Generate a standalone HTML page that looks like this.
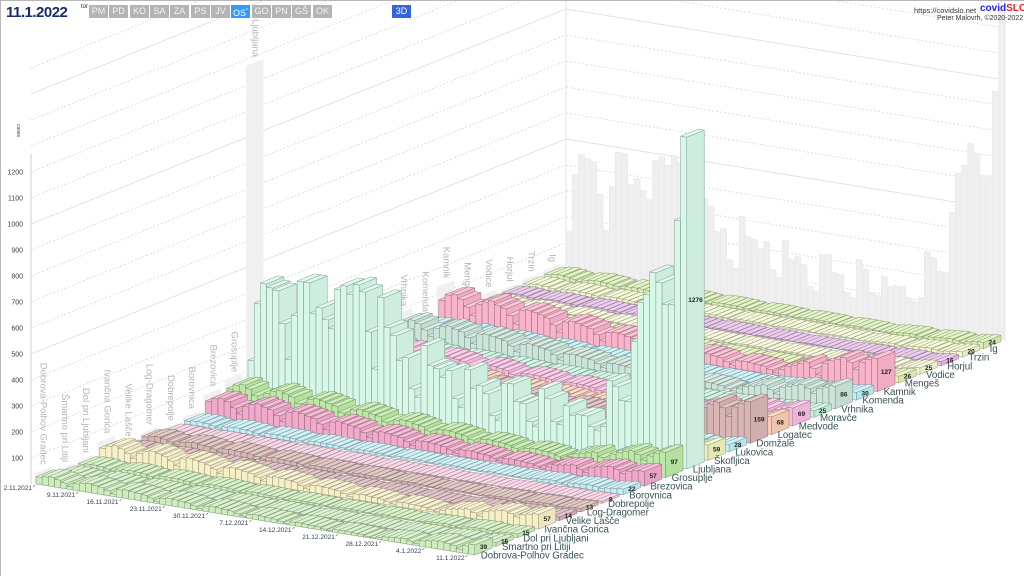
<!DOCTYPE html>
<html><head><meta charset="utf-8">
<style>
html,body{margin:0;padding:0;background:#fff;}
#wrap{position:relative;width:1024px;height:576px;overflow:hidden;background:#fff;font-family:"Liberation Sans",sans-serif;border-top:1px solid #b8b8b8;border-left:1px solid #b8b8b8;box-sizing:border-box;}
#chart{position:absolute;left:0;top:0;}
.btn{position:absolute;top:4px;height:13px;width:19px;background:#b4b4b4;color:#f4f4f4;font-size:9px;line-height:13px;text-align:center;}
</style></head>
<body>
<div id="wrap">
<svg id="chart" width="1024" height="576"></svg>
<div style="position:absolute;left:5px;top:3px;font-size:15px;font-weight:bold;color:#1a2a6c;letter-spacing:-0.5px;">11.1.2022</div>
<div style="position:absolute;left:80px;top:3px;font-size:6px;color:#1a2a6c;">tor</div>
<div class="btn" style="left:88px">PM</div>
<div class="btn" style="left:108px">PD</div>
<div class="btn" style="left:129px">KO</div>
<div class="btn" style="left:149px">SA</div>
<div class="btn" style="left:169px">ZA</div>
<div class="btn" style="left:190px">PS</div>
<div class="btn" style="left:210px">JV</div>
<div class="btn" style="left:230px;background:#3399ff;color:#fff">OS<sup style="font-size:5px">*</sup></div>
<div class="btn" style="left:251px">GO</div>
<div class="btn" style="left:271px">PN</div>
<div class="btn" style="left:291px">GŠ</div>
<div class="btn" style="left:312px">OK</div>
<div class="btn" style="left:391px;background:#3366dd;color:#fff">3D</div>
<div style="position:absolute;left:913px;top:5px;font-size:7.5px;color:#333;">https://covidslo.net</div>
<div style="position:absolute;left:979px;top:2px;font-size:10px;font-weight:bold;"><span style="color:#2222ee">covid</span><span style="color:#ee2222">SLO</span></div>
<div style="position:absolute;left:936px;top:14px;font-size:7px;color:#333;">Peter Malovrh, ©2020-2022</div>
</div>
<script>
// ---- data ----
const municipalities = ["Dobrova-Polhov Gradec","Šmartno pri Litiji","Dol pri Ljubljani","Ivančna Gorica","Velike Lašče","Log-Dragomer","Dobrepolje","Borovnica","Brezovica","Grosuplje","Ljubljana","Škofljica","Lukovica","Domžale","Logatec","Medvode","Moravče","Vrhnika","Komenda","Kamnik","Mengeš","Vodice","Horjul","Trzin","Ig"];
const dateTicks = ["2.11.2021","9.11.2021","16.11.2021","23.11.2021","30.11.2021","7.12.2021","14.12.2021","21.12.2021","28.12.2021","4.1.2022","11.1.2022"];
const yTicks = [100,200,300,400,500,600,700,800,900,1000,1100,1200];
const sDobrova = [28,34,36,30,22,12,26,32,35,31,28,20,10,30,33,30,28,25,18,9,24,28,26,24,22,15,8,20,24,22,20,18,12,6,16,18,17,15,14,9,5,13,15,14,12,11,7,4,11,12,11,10,9,5,3,8,14,16,18,20,14,8,22,26,30,32,28,24,14,30,39];
const sSmartno = [10,14,15,13,9,5,11,15,16,14,12,8,4,13,14,13,12,10,7,3,11,12,11,10,9,6,3,9,10,9,8,7,5,2,7,8,7,6,6,4,2,5,6,6,5,5,3,2,5,5,4,4,4,2,1,3,6,7,8,9,6,4,9,11,12,13,10,6,12,14,15];
const sDol = [12,16,17,15,10,6,13,17,18,16,14,9,5,15,16,15,14,12,8,4,12,14,13,12,10,7,4,10,11,10,9,8,6,3,8,9,8,7,7,5,2,6,7,7,6,6,4,2,5,6,5,5,4,3,1,4,7,8,9,10,7,4,10,12,13,14,11,8,12,14,15];
const sIvancna = [40,52,58,50,36,20,44,55,60,54,48,34,18,50,56,52,48,42,30,16,42,46,44,40,36,26,14,34,38,36,33,30,20,11,28,30,28,26,24,16,9,22,24,22,20,18,12,7,17,19,17,16,14,9,5,13,22,26,30,34,24,14,36,42,48,50,44,34,46,52,57];
const sVelike = [10,13,14,12,8,4,10,13,14,12,11,7,4,11,12,11,10,9,6,3,9,10,9,9,8,5,3,7,8,8,7,6,4,2,6,6,6,5,5,3,2,4,5,5,4,4,3,1,4,4,4,3,3,2,1,3,5,6,7,8,5,3,8,9,10,11,9,7,10,12,14];
const sLog = [18,24,26,22,15,8,20,24,26,22,20,14,7,21,22,20,19,17,12,6,16,18,16,15,14,10,5,12,13,12,11,10,7,4,9,10,9,9,8,5,3,7,8,8,7,6,4,2,6,7,6,6,5,3,2,5,7,8,9,10,7,4,9,10,11,12,10,8,10,12,13];
const sDobrepolje = [6,8,9,7,5,3,6,8,9,8,7,5,2,7,7,7,6,6,4,2,5,6,6,5,5,3,2,4,5,5,4,4,3,1,3,4,4,3,3,2,1,3,3,3,3,3,2,1,2,3,3,2,2,1,1,2,3,4,4,5,3,2,5,5,6,6,5,4,6,7,8];
const sBorovnica = [12,16,17,15,10,6,13,16,17,15,14,9,5,14,15,14,13,12,8,4,11,13,12,11,10,7,4,9,10,10,9,8,5,3,8,8,8,7,6,4,2,6,7,6,6,5,4,2,5,6,5,5,5,3,2,4,8,9,11,12,8,5,12,14,16,17,15,11,16,19,22];
const sBrezovica = [55,70,74,66,46,26,58,70,76,68,62,44,24,64,70,66,60,55,38,20,52,58,54,50,46,32,17,42,46,44,40,36,25,13,34,36,34,31,28,19,10,26,28,26,24,22,15,8,20,22,20,18,17,11,6,15,26,30,34,38,26,16,40,46,52,55,48,36,48,54,57];
const sGrosuplje = [70,88,94,82,60,34,76,88,95,86,78,56,30,80,86,82,76,70,48,26,66,72,68,62,58,40,22,54,58,56,50,46,32,17,44,46,44,40,36,25,13,34,36,34,32,28,20,11,26,30,28,26,24,16,9,21,36,42,48,54,38,22,58,68,76,82,72,54,74,88,97];
const sLjubljana = [146,369,450,438,431,308,173,346,481,481,365,392,350,319,473,492,462,504,480,330,190,470,358,331,238,254,138,108,312,238,231,200,231,127,96,246,177,192,165,85,69,215,219,154,150,85,69,219,185,100,92,169,135,142,142,104,92,112,292,273,223,223,458,612,646,735,700,619,623,950,1276];
const sSkofljica = [30,40,44,38,26,14,32,40,44,38,34,24,12,36,38,36,33,30,20,11,28,32,30,27,25,17,9,22,24,23,21,19,13,7,18,19,18,16,15,10,5,14,15,14,13,12,8,4,11,12,12,11,10,6,4,9,15,18,22,26,18,10,28,34,40,44,38,28,42,50,59];
const sLukovica = [16,21,23,20,14,8,17,21,23,20,18,13,7,19,20,19,17,16,11,6,15,17,16,14,13,9,5,12,13,12,11,10,7,4,9,10,10,9,8,5,3,7,8,8,7,6,4,2,6,7,6,6,5,3,2,5,8,10,12,14,10,6,14,16,18,20,17,13,20,24,28];
const sDomzale = [80,104,112,98,70,40,88,104,114,100,92,66,36,96,102,96,90,82,58,30,78,86,80,74,68,48,26,64,70,66,60,56,38,21,52,56,52,48,44,30,16,42,44,42,38,36,24,13,34,36,34,32,30,20,11,28,48,60,72,86,62,36,92,110,126,138,120,90,130,148,159];
const sLogatec = [40,52,56,48,34,19,44,52,56,50,46,32,17,48,50,48,44,40,28,15,38,42,40,36,34,23,12,32,34,32,30,27,18,10,25,27,26,24,22,15,8,20,22,20,19,17,11,6,16,18,17,16,14,9,5,13,22,26,30,34,24,14,38,44,50,56,48,36,52,60,68];
const sMedvode = [44,56,60,52,38,21,48,56,60,54,50,36,19,52,54,52,48,44,30,16,42,46,44,40,36,25,13,34,36,35,32,29,20,11,27,29,28,26,24,16,9,22,24,22,20,19,12,7,17,19,18,17,16,10,6,14,24,28,32,36,26,15,40,46,52,58,50,38,54,62,69];
const sMoravce = [14,18,20,17,12,7,15,18,20,17,16,11,6,16,17,16,15,14,10,5,13,15,14,12,11,8,4,10,11,11,10,9,6,3,8,9,9,8,7,5,3,6,7,7,6,6,4,2,5,6,6,5,5,3,2,4,8,9,11,12,8,5,13,14,16,18,15,11,18,22,25];
const sVrhnika = [56,72,78,68,48,27,62,72,78,70,64,46,25,66,70,66,62,56,40,21,54,60,56,52,48,33,17,44,46,44,40,37,26,14,35,36,34,32,30,20,11,28,29,27,25,23,15,9,22,24,23,21,19,12,7,18,30,36,42,48,34,20,50,58,66,72,62,46,68,78,86];
const sKomenda = [18,24,26,22,16,9,20,24,26,22,20,14,8,22,22,21,19,18,12,7,17,19,18,16,15,10,6,14,14,14,13,12,8,4,11,11,11,10,9,6,3,8,9,9,8,7,5,3,7,8,7,7,6,4,2,6,9,11,13,15,10,6,16,18,20,22,19,14,22,26,30];
const sKamnik = [80,104,110,96,70,40,88,100,108,96,88,64,35,92,96,92,86,78,55,30,74,80,76,70,64,45,24,60,64,62,56,52,36,20,48,52,50,46,42,28,15,40,42,40,36,34,22,12,32,34,32,30,28,18,10,26,42,50,60,70,50,28,76,90,100,110,96,72,104,118,127];
const sMenges = [16,21,23,20,14,8,17,21,23,20,18,13,7,19,20,19,17,16,11,6,15,17,16,14,13,9,5,12,13,12,11,10,7,4,9,10,10,9,8,5,3,7,8,8,7,7,4,2,6,7,6,6,5,3,2,5,8,10,12,13,9,5,14,16,18,20,17,12,19,23,26];
const sVodice = [10,14,15,13,9,5,11,14,15,13,12,8,4,12,13,12,11,10,7,4,10,11,10,9,9,6,3,8,9,8,8,7,5,2,6,7,7,6,6,4,2,5,6,5,5,5,3,2,4,5,5,4,4,3,1,3,6,8,9,11,8,5,12,14,16,18,15,11,18,22,25];
const sHorjul = [8,11,12,10,7,4,9,11,12,10,9,6,3,10,10,10,9,8,6,3,8,9,8,7,7,5,2,6,7,6,6,5,4,2,5,5,5,5,4,3,1,4,4,4,4,3,2,1,3,4,3,3,3,2,1,3,4,5,6,7,5,3,8,9,10,11,9,7,11,14,16];
const sTrzin = [10,14,15,13,9,5,11,14,15,13,12,8,4,12,13,12,11,10,7,4,10,11,10,9,9,6,3,8,9,8,8,7,5,2,6,7,7,6,6,4,2,5,6,5,5,5,3,2,4,5,5,4,4,3,1,3,6,7,8,10,7,4,10,12,13,15,13,10,14,17,20];
const sIg = [14,18,20,17,12,7,15,18,20,17,16,11,6,16,17,16,15,14,10,5,13,15,14,12,11,8,4,10,11,11,10,9,6,3,8,9,9,8,7,5,3,6,7,7,6,6,4,2,5,6,6,5,5,3,2,4,8,9,11,12,8,5,12,14,16,18,15,11,17,21,24];
const series = [sDobrova,sSmartno,sDol,sIvancna,sVelike,sLog,sDobrepolje,sBorovnica,sBrezovica,sGrosuplje,sLjubljana,sSkofljica,sLukovica,sDomzale,sLogatec,sMedvode,sMoravce,sVrhnika,sKomenda,sKamnik,sMenges,sVodice,sHorjul,sTrzin,sIg];
const shadowSeries = sLjubljana;
const colors = ["#cdeebc","#cfeec0","#cbeeb8","#f7efc6","#d8b0ba","#d8bab4","#f8cde0","#c4eef6","#f2aacb","#bde9a6","#d6f8e8","#eef2bc","#bff0f5","#d9b5b5","#fcccb4","#f9bde2","#c4f5de","#cbe5da","#bdf0f8","#f9b3ca","#e2f0b4","#f5f8d4","#e6bce8","#f1f8cc","#d9f0b4"];

// ---- projection ----
const NS = "http://www.w3.org/2000/svg";
const svg = document.getElementById('chart');
const OX = 35, OY = 483, DX = 6.18, DY = 1.0, MX = 21.2, MY = -8.6, VS = 0.26, DEP = 0.82;
const nDays = sLjubljana.length, nRows = municipalities.length;
function P(i, r, v){ return [OX + i*DX + r*MX, OY + i*DY + r*MY - v*VS]; }
function pts(a){ return a.map(p => p[0].toFixed(1)+','+p[1].toFixed(1)).join(' '); }
function shade(hex, f){
  const n = parseInt(hex.slice(1),16);
  let r=(n>>16)&255, g=(n>>8)&255, b=n&255;
  if (f < 1){ r=Math.round(r*f); g=Math.round(g*f); b=Math.round(b*f); }
  else { const t=f-1; r=Math.round(r+(255-r)*t); g=Math.round(g+(255-g)*t); b=Math.round(b+(255-b)*t); }
  return 'rgb('+r+','+g+','+b+')';
}
function mk(tag, attrs, parent){
  const e = document.createElementNS(NS, tag);
  for (const k in attrs) e.setAttribute(k, attrs[k]);
  (parent||svg).appendChild(e);
  return e;
}

// ---- walls ----
const gWalls = mk('g', {});


const backR = 25;
for (let v = 100; v <= 1600; v += 100){
  const a = P(0,0,v), b = P(0,backR,v), c = P(nDays,backR,v);
  const solid = (v % 500 === 0);
  const l1 = mk('line', {x1:a[0]-5, y1:a[1], x2:b[0], y2:b[1], stroke: solid?'#dcdcdc':'#d8d8d8', 'stroke-width':0.8, 'stroke-dasharray': solid?'':'2,2'}, gWalls);
  
  
  const l2 = mk('line', {x1:b[0], y1:b[1], x2:c[0], y2:c[1], stroke: solid?'#dcdcdc':'#d8d8d8', 'stroke-width':0.8, 'stroke-dasharray': solid?'':'2,2'}, gWalls);
  
  
}
{
  const b0 = P(0,backR,0), c0 = P(nDays,backR,0);
  const e1 = mk('line', {x1:b0[0], y1:b0[1], x2:b0[0], y2:0, stroke:'#e0e0e0', 'stroke-width':1}, gWalls);
  
  
  const e2 = mk('line', {x1:c0[0], y1:c0[1], x2:c0[0], y2:0, stroke:'#e0e0e0', 'stroke-width':1}, gWalls);
  
  
  const ya = P(0,0,1270);
  const e3 = mk('line', {x1:30, y1:OY, x2:30, y2:ya[1], stroke:'#d0d0d0', 'stroke-width':1}, gWalls);
  
  
}
for (let i = 0; i < nDays; i++){
  const v = shadowSeries[i];
  const poly = mk('polygon', {points: pts([P(i,backR,0),P(i+1,backR,0),P(i+1,backR,v),P(i,backR,v)]), fill:'#efefef', stroke:'#e6e6e6', 'stroke-width':0.5});
  
  
}
yTicks.forEach(v => {
  const p = P(0,0,v);
  const t = mk('text', {x:22, y:p[1]+2.5, 'font-size':7, 'text-anchor':'end', fill:'#2f3f4f', 'font-family':'Liberation Sans, sans-serif'});
  t.textContent = v;
  
  
});
{
  const t = mk('text', {x:0, y:0, 'font-size':5, fill:'#2f3f4f', transform:'translate(16,123) rotate(90)', 'font-family':'Liberation Sans, sans-serif'});
  t.textContent = 'cases';
  
  
}
for (let r = 0; r < nRows; r++){
  const mx = Math.max.apply(null, series[r]);
  const poly = mk('polygon', {points: pts([P(-0.3,r,0),P(-0.3,r+DEP,0),P(-0.3,r+DEP,mx),P(-0.3,r,mx)]), fill:'#f0f0f0'});
  
  
  const top = P(-0.3, r+0.45, mx);
  const t = mk('text', {x:0, y:0, 'font-size':9.5, fill:'#b4b4b4', 'text-anchor':'end', transform:'translate('+(top[0]-3).toFixed(1)+','+(top[1]-5).toFixed(1)+') rotate(90)', 'font-family':'Liberation Sans, sans-serif'});
  t.textContent = municipalities[r];
  
  
}
// ---- bars ----
for (let r = nRows-1; r >= 0; r--){
  const g = mk('g', {});
  
  
  const c = colors[r], top = shade(c,1.25), side = shade(c,0.96), st = shade(c,0.62);
  const s = series[r];
  for (let i = 0; i < nDays; i++){
    const v = s[i];
    const bar = mk('g', {stroke:st, 'stroke-width':0.5, 'stroke-linejoin':'round'}, g);
    
    
    mk('polygon', {points: pts([P(i,r,0),P(i+1,r,0),P(i+1,r,v),P(i,r,v)]), fill:c}, bar);
    mk('polygon', {points: pts([P(i+1,r,0),P(i+1,r+DEP,0),P(i+1,r+DEP,v),P(i+1,r,v)]), fill:side}, bar);
    mk('polygon', {points: pts([P(i,r,v),P(i+1,r,v),P(i+1,r+DEP,v),P(i,r+DEP,v)]), fill:top}, bar);
  }
  const last = s[nDays-1];
  const lp = P(nDays, r+DEP/2, last/2);
  const lt = mk('text', {x:lp[0], y:lp[1]+2.5, 'font-size':6.5, 'font-weight':'bold', 'text-anchor':'middle', fill:'#222', 'font-family':'Liberation Sans, sans-serif'});
  lt.textContent = last;
  
  
}
for (let r = 0; r < nRows; r++){
  const p = P(nDays, r, 0);
  const t = mk('text', {x:p[0]+6, y:p[1]+3.5, 'font-size':9.8, 'letter-spacing':'-0.1', fill:'#3a5458', 'font-family':'Liberation Sans, sans-serif'});
  t.textContent = municipalities[r];
  
  
}
dateTicks.forEach((d, k) => {
  const p = P(k*7, 0, 0);
  const tk = mk('line', {x1:p[0]-3, y1:p[1]+3, x2:p[0]-1, y2:p[1]+1, stroke:'#666', 'stroke-width':0.6});
  
  
  const t = mk('text', {x:p[0]-4, y:p[1]+6, 'font-size':6.5, 'text-anchor':'end', fill:'#2f3f4f', 'font-family':'Liberation Sans, sans-serif'});
  t.textContent = d;
  
  
});
</script>
</body></html>
